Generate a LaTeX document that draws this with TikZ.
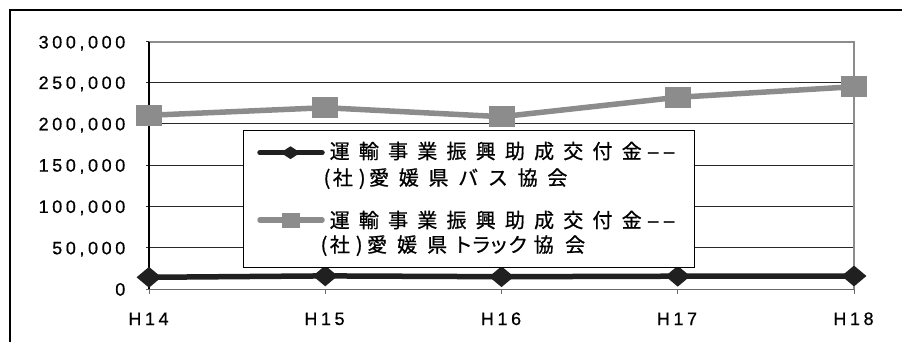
\documentclass[tikz,border=0pt]{standalone}
\usepackage{fontspec}
\usetikzlibrary{shapes.geometric}
\setmainfont{Liberation Sans}
\newfontfamily\jpfont[FakeBold=0.8]{Noto Sans CJK JP}
\newfontfamily\axfont[LetterSpace=20,FakeBold=0.6]{Liberation Sans}
\newcommand\hsk[1]{\hspace*{#1pt}}
\newcommand\lgA{\hspace*{9.2pt}}
\newcommand\lgB{\hspace*{9.7pt}}
\newcommand\whyph{\scalebox{2}[1]{-}}
\definecolor{sergray}{RGB}{140,140,140}
\definecolor{serblack}{RGB}{32,32,32}
\definecolor{gridc}{RGB}{40,40,40}
\tikzset{
  ylab/.style={anchor=base east, inner sep=0pt, font=\fontsize{18}{20}\selectfont\axfont},
  xlab/.style={anchor=base, inner sep=0pt, font=\fontsize{18}{20}\selectfont\axfont},
  gridline/.style={draw=gridc, line width=1pt},
  frameline/.style={draw=sergray, line width=2pt},
  busline/.style={draw=serblack, line width=5.5pt, line cap=round, line join=round},
  truckline/.style={draw=sergray, line width=5.5pt, line cap=round, line join=round},
  busmark/.style={shape=diamond, fill=serblack, inner sep=0pt, minimum width=25pt, minimum height=21pt},
  truckmark/.style={shape=rectangle, fill=sergray, inner sep=0pt, minimum width=26pt, minimum height=21pt},
  legbusmark/.style={shape=diamond, fill=serblack, inner sep=0pt, minimum width=20pt, minimum height=13pt},
  legtruckmark/.style={shape=rectangle, fill=sergray, inner sep=0pt, minimum width=18pt, minimum height=15pt},
  legtext/.style={anchor=base west, inner sep=0pt, font=\fontsize{20}{22}\selectfont\jpfont}
}
\begin{document}
\begin{tikzpicture}[x=1pt,y=-1pt]
\useasboundingbox (0,0) rectangle (902,342);
\fill[white] (0,0) rectangle (902,342);
% outer frame (top and left)
\coordinate (fa) at (902,10);
\coordinate (fb) at (10,10);
\coordinate (fc) at (10,342);
\draw[line width=2.5pt, black] (fa) -- (fb) -- (fc);
% plot area corners
\coordinate (pTL) at (149,42);
\coordinate (pTR) at (854,42);
\coordinate (pBL) at (149,289.3);
\coordinate (pBR) at (854,289.3);
% grid lines
\foreach \v/\y in {250/82.6,200/123.9,150/165.2,100/206.5,50/247.9}{
  \coordinate (gl\v) at (146,\y);
  \coordinate (gr\v) at (854,\y);
  \draw[gridline] (gl\v) -- (gr\v);
}
% plot border
\draw[frameline] (pTL) -- (pTR) -- (pBR);
\coordinate (tk300) at (146,42);
\draw[gridline] (tk300) -- (pTL);
\coordinate (tk0) at (146,289.3);
\draw[draw=gridc!70, line width=1.5pt] (tk0) -- (pBR);
\draw[draw=black, line width=1.5pt] (pTL) -- (pBL);
% x ticks
\foreach \i/\x in {1/149,2/325.25,3/501.5,4/677.75,5/854}{
  \coordinate (xt\i) at (\x,289.3);
  \coordinate (xb\i) at (\x,293.5);
  \draw[draw=gridc!70, line width=1pt] (xt\i) -- (xb\i);
}
% y labels
\node[ylab] (y300) at (125.5,48.4) {300,000};
\node[ylab] (y250) at (125.5,89.0) {250,000};
\node[ylab] (y200) at (125.5,130.3) {200,000};
\node[ylab] (y150) at (125.5,171.6) {150,000};
\node[ylab] (y100) at (125.5,212.9) {100,000};
\node[ylab] (y50) at (125.5,254.3) {50,000};
\node[ylab] (y0) at (125.5,295.6) {0};
% x labels
\node[xlab] (h14) at (148.5,325) {H14};
\node[xlab] (h15) at (324.5,325) {H15};
\node[xlab] (h16) at (501,325) {H16};
\node[xlab] (h17) at (677,325) {H17};
\node[xlab] (h18) at (853.5,325) {H18};
% series data coordinates
\coordinate (t1) at (149,115.3);
\coordinate (t2) at (325.25,107.7);
\coordinate (t3) at (501.5,116.7);
\coordinate (t4) at (677.75,97.3);
\coordinate (t5) at (854,86.7);
\coordinate (b1) at (149,277.3);
\coordinate (b2) at (325.25,275.9);
\coordinate (b3) at (501.5,276.7);
\coordinate (b4) at (677.75,276.2);
\coordinate (b5) at (854,276.0);
\draw[truckline] (t1) -- (t2) -- (t3) -- (t4) -- (t5);
\draw[busline] (b1) -- (b2) -- (b3) -- (b4) -- (b5);
\foreach \i in {1,...,5}{
  \node[truckmark] (tm\i) at (t\i) {};
  \node[busmark] (bm\i) at (b\i) {};
}
% legend
\coordinate (lgA) at (243,130.7);
\coordinate (lgB) at (694,267.7);
\draw[fill=white, draw=black, line width=1pt] (lgA) rectangle (lgB);
\coordinate (lb1) at (260,152.7);
\coordinate (lb2) at (322,152.7);
\draw[busline] (lb1) -- (lb2);
\node[legbusmark] (lbm) at (290.5,152.7) {};
\coordinate (lt1) at (260,220);
\coordinate (lt2) at (322,220);
\draw[truckline] (lt1) -- (lt2);
\node[legtruckmark] (ltm) at (290.5,220) {};
\node[legtext] (bus1) at (329.5,158.6) {運\lgA 輸\lgA 事\lgA 業\lgA 振\lgA 興\lgA 助\lgA 成\lgA 交\lgA 付\lgA 金\hsk{4.5}\whyph\hsk{2}\whyph};
\node[legtext] (bus2) at (323.4,185.1) {(\hsk{2.5}社\hsk{6})\hsk{3.5}愛\lgB 媛\lgB 県\lgB バ\lgB ス\lgB 協\lgB 会};
\node[legtext] (trk1) at (329.5,227.6) {運\lgA 輸\lgA 事\lgA 業\lgA 振\lgA 興\lgA 助\lgA 成\lgA 交\lgA 付\lgA 金\hsk{4.5}\whyph\hsk{2}\whyph};
\node[legtext] (trk2) at (320.4,252.1) {(\hsk{2.5}社\hsk{6})\hsk{4.5}愛\hsk{10}媛\hsk{10}県\hsk{5.5}ト\hsk{-1.5}ラ\hsk{-2.5}ッ\hsk{-0.5}ク\hsk{5.5}協\hsk{11.5}会};
\end{tikzpicture}
\end{document}
